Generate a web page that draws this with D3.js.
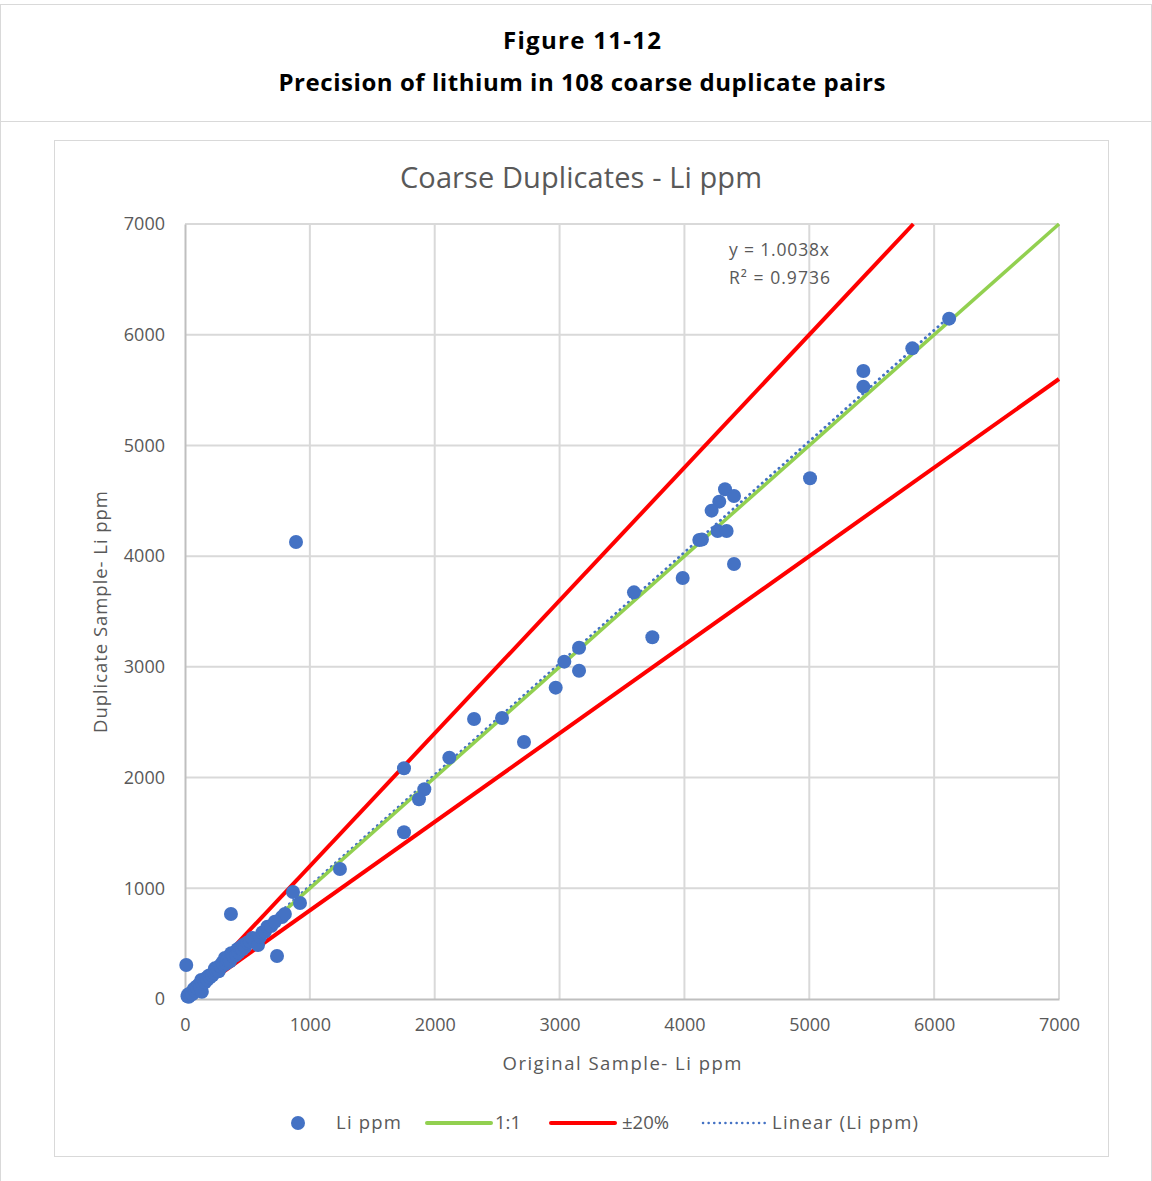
<!DOCTYPE html>
<html>
<head>
<meta charset="utf-8">
<script src="https://cdn.jsdelivr.net/npm/d3@7"></script>
<style>
  body { margin: 0; background: #fff; }
  svg { display: block; }
</style>
</head>
<body>
<svg id="chart" width="1152" height="1181"></svg>
<script>
// data
var origPpm = [
    6120, 5825, 5433, 5433, 5006, 4325, 4397, 4279, 4218, 4119, 4140, 4266, 4338, 4397, 3986,
    3596, 3743, 3156, 3038, 3156, 2969, 2715, 2539, 2315, 2117, 1754, 1917, 1874, 1754, 1241,
    921, 865, 777, 800, 737, 368, 10, 889,
    20, 25, 30, 35, 40, 50, 55, 60, 70, 80, 90, 100, 110, 120, 130, 135, 140, 150, 160, 170,
    180, 190, 200, 210, 220, 230, 240, 250, 260, 270, 280, 290, 300, 310, 320, 330, 340, 350,
    360, 370, 380, 390, 400, 410, 420, 430, 440, 450, 460, 470, 480, 500, 520, 540, 560, 585,
    600, 620, 640, 660, 690, 720
];
var dupPpm = [
    6145, 5877, 5672, 5531, 4703, 4604, 4543, 4492, 4411, 4146, 4150, 4227, 4227, 3929, 3803,
    3673, 3267, 3173, 3047, 2965, 2812, 2321, 2538, 2529, 2180, 2084, 1894, 1804, 1506, 1174,
    867, 967, 741, 768, 388, 768, 307, 4128,
    25, 40, 20, 45, 35, 50, 60, 45, 90, 75, 110, 95, 130, 110, 172, 66, 140, 170, 150, 190,
    175, 210, 195, 220, 215, 240, 277, 260, 280, 250, 300, 290, 330, 310, 370, 320, 350, 380,
    340, 413, 400, 385, 420, 400, 450, 420, 460, 473, 450, 490, 470, 510, 518, 550, 520, 488,
    560, 600, 608, 653, 660, 698
];
var xTicks = [0, 1000, 2000, 3000, 4000, 5000, 6000, 7000];
var yTicks = [0, 1000, 2000, 3000, 4000, 5000, 6000, 7000];
var trendSlope = 1.0038;
var trendLabel = "y = 1.0038x";
var r2Label = "R² = 0.9736";
var bandPct = 0.2;
var legendItems = ["Li ppm", "1:1", "±20%", "Linear (Li ppm)"];

var svg = d3.select("#chart");
var grey = "#595959";

// page frame
svg.append("line").attr("x1", 0).attr("x2", 1152).attr("y1", 4.5).attr("y2", 4.5)
    .attr("stroke", "#d9d9d9").attr("stroke-width", 1);
svg.append("line").attr("x1", 0).attr("x2", 1152).attr("y1", 121.5).attr("y2", 121.5)
    .attr("stroke", "#d9d9d9").attr("stroke-width", 1);
svg.append("line").attr("x1", 0.5).attr("x2", 0.5).attr("y1", 4).attr("y2", 1181)
    .attr("stroke", "#d9d9d9").attr("stroke-width", 1);
svg.append("line").attr("x1", 1151.5).attr("x2", 1151.5).attr("y1", 4).attr("y2", 1181)
    .attr("stroke", "#d9d9d9").attr("stroke-width", 1);

svg.append("text").attr("x", 582).attr("y", 49).attr("text-anchor", "middle")
    .attr("font-family", "Open Sans").attr("font-weight", "bold").attr("font-size", 24)
    .attr("fill", "#000").attr("textLength", 158).text("Figure 11-12");
svg.append("text").attr("x", 582).attr("y", 91).attr("text-anchor", "middle")
    .attr("font-family", "Open Sans").attr("font-weight", "bold").attr("font-size", 24)
    .attr("fill", "#000").attr("textLength", 607).text("Precision of lithium in 108 coarse duplicate pairs");

// chart box
svg.append("rect").attr("x", 54.5).attr("y", 140.5).attr("width", 1054).attr("height", 1016)
    .attr("fill", "#fff").attr("stroke", "#d9d9d9").attr("stroke-width", 1);

svg.append("text").attr("x", 581).attr("y", 188).attr("text-anchor", "middle")
    .attr("font-family", "Open Sans").attr("font-size", 29).attr("fill", grey)
    .attr("textLength", 362).text("Coarse Duplicates - Li ppm");

var x = d3.scaleLinear().domain([0, 7000]).range([185, 1059]);
var y = d3.scaleLinear().domain([0, 7000]).range([999, 224]);

// grid
svg.append("g").selectAll("line").data(xTicks.slice(1)).enter().append("line")
    .attr("x1", function (d) { return x(d); }).attr("x2", function (d) { return x(d); })
    .attr("y1", y(0)).attr("y2", y(7000))
    .attr("stroke", "#d9d9d9").attr("stroke-width", 2);
svg.append("g").selectAll("line").data(yTicks.slice(1)).enter().append("line")
    .attr("x1", x(0)).attr("x2", x(7000))
    .attr("y1", function (d) { return y(d); }).attr("y2", function (d) { return y(d); })
    .attr("stroke", "#d9d9d9").attr("stroke-width", 2);

// axes
var xAxis = svg.append("g").attr("transform", "translate(0," + y(0) + ")")
    .call(d3.axisBottom(x).tickValues(xTicks).tickFormat(d3.format("d")).tickSize(0).tickPadding(19));
var yAxis = svg.append("g").attr("transform", "translate(" + x(0) + ",0)")
    .call(d3.axisLeft(y).tickValues(yTicks).tickFormat(d3.format("d")).tickSize(0).tickPadding(20));
[xAxis, yAxis].forEach(function (a) {
    a.select(".domain").attr("stroke", "#bfbfbf").attr("stroke-width", 2);
    a.selectAll("text").attr("font-family", "Open Sans").attr("font-size", 18).attr("fill", grey);
});

svg.append("text").attr("x", 622).attr("y", 1070).attr("text-anchor", "middle")
    .attr("font-family", "Open Sans").attr("font-size", 18.5).attr("fill", grey)
    .attr("textLength", 239).text("Original Sample- Li ppm");
svg.append("text").attr("transform", "translate(107,612) rotate(-90)").attr("text-anchor", "middle")
    .attr("font-family", "Open Sans").attr("font-size", 18.5).attr("fill", grey)
    .attr("textLength", 242).text("Duplicate Sample- Li ppm");

var line = d3.line().x(function (d) { return x(d[0]); }).y(function (d) { return y(d[1]); });

// trendline through the origin, over the data range
var xMax = d3.max(origPpm);
svg.append("path").attr("d", line([[0, 0], [xMax, xMax * trendSlope]]))
    .attr("fill", "none").attr("stroke", "#4472c4").attr("stroke-width", 3)
    .attr("stroke-dasharray", "0.1,5.5").attr("stroke-linecap", "round")
    .attr("transform", "translate(0,-2)");

// 1:1
svg.append("path").attr("d", line([[0, 0], [7000, 7000]]))
    .attr("fill", "none").attr("stroke", "#92d050").attr("stroke-width", 3.5);

// +-20%
svg.append("path").attr("d", line([[0, 0], [7000 / (1 + bandPct), 7000]]))
    .attr("fill", "none").attr("stroke", "#ff0000").attr("stroke-width", 4);
svg.append("path").attr("d", line([[0, 0], [7000, 7000 * (1 - bandPct)]]))
    .attr("fill", "none").attr("stroke", "#ff0000").attr("stroke-width", 4);

// points
svg.append("g").selectAll("circle").data(d3.zip(origPpm, dupPpm)).enter().append("circle")
    .attr("cx", function (d) { return x(d[0]); })
    .attr("cy", function (d) { return y(d[1]); })
    .attr("r", 7)
    .attr("fill", "#4472c4");

svg.append("text").attr("x", 729).attr("y", 256).attr("font-family", "Open Sans")
    .attr("font-size", 17.5).attr("fill", grey).attr("textLength", 100).text(trendLabel);
svg.append("text").attr("x", 729).attr("y", 284).attr("font-family", "Open Sans")
    .attr("font-size", 17.5).attr("fill", grey).attr("textLength", 101).text(r2Label);

// legend
var lg = svg.append("g").attr("font-family", "Open Sans").attr("font-size", 18.5)
    .attr("fill", grey);
lg.append("circle").attr("cx", 298).attr("cy", 1123).attr("r", 7).attr("fill", "#4472c4");
lg.append("text").attr("x", 336).attr("y", 1129).attr("textLength", 65).text(legendItems[0]);
lg.append("line").attr("x1", 427).attr("x2", 491).attr("y1", 1123).attr("y2", 1123)
    .attr("stroke", "#92d050").attr("stroke-width", 4).attr("stroke-linecap", "round");
lg.append("text").attr("x", 495).attr("y", 1129).text(legendItems[1]);
lg.append("line").attr("x1", 551).attr("x2", 615).attr("y1", 1123).attr("y2", 1123)
    .attr("stroke", "#ff0000").attr("stroke-width", 4).attr("stroke-linecap", "round");
lg.append("text").attr("x", 622).attr("y", 1129).text(legendItems[2]);
lg.append("line").attr("x1", 703).attr("x2", 765).attr("y1", 1123).attr("y2", 1123)
    .attr("stroke", "#4472c4").attr("stroke-width", 2.5).attr("stroke-dasharray", "0.1,5.5")
    .attr("stroke-linecap", "round");
lg.append("text").attr("x", 772).attr("y", 1129).attr("textLength", 146).text(legendItems[3]);
</script>
</body>
</html>
